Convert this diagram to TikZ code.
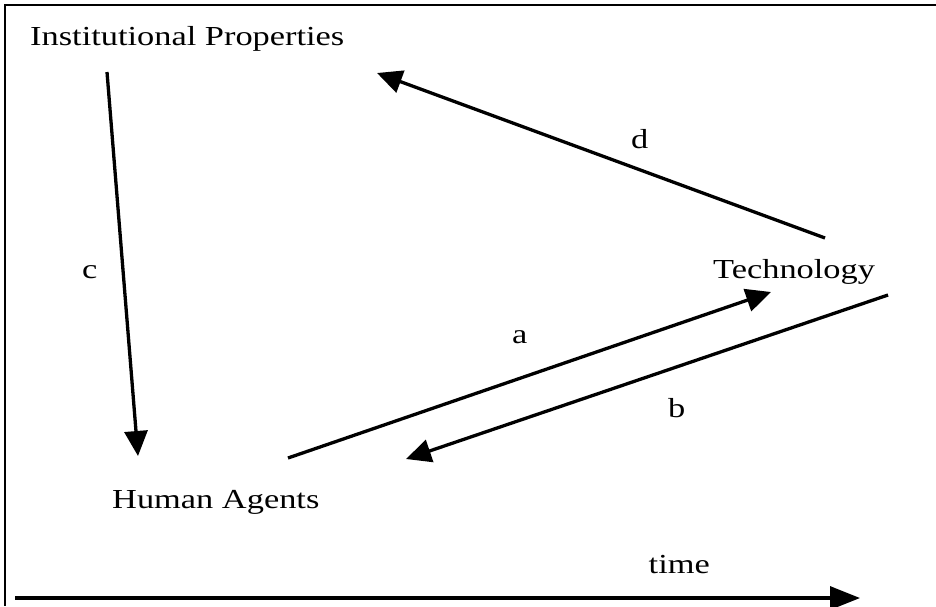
\documentclass[tikz,border=0pt]{standalone}
\usepackage{fontspec}
\setmainfont{Liberation Serif}[FakeStretch=1.25]
\usetikzlibrary{arrows.meta}
\begin{document}
\begin{tikzpicture}[x=1pt,y=-1pt,
  lbl/.style={inner sep=0pt,anchor=base west,font=\fontsize{27.5}{32}\selectfont},
  conn/.style={line width=3.3pt,-{Triangle[length=25pt,width=23pt]}},
  frameline/.style={line width=2.5pt}]
\useasboundingbox (0,0) rectangle (936,606);
% frame (top and left edges)
\draw[frameline] (936,5) -- (5,5) -- (5,606);
% texts
\node[lbl] (inst) at (30,45) {Institutional Properties};
\node[lbl] (tech) at (713,278) {Technology};
\node[lbl] (human) at (112,508) {Human Agents};
\node[lbl,anchor=base east] (time) at (710,573) {time};
\node[lbl] (la) at (512,343) {a};
\node[lbl] (lb) at (668,417) {b};
\node[lbl] (lc) at (82,278) {c};
\node[lbl] (ld) at (631,148) {d};
% connector end points
\coordinate (c1) at (107,72);
\coordinate (c2) at (138,456);
\coordinate (d1) at (825,238);
\coordinate (d2) at (377,73);
\coordinate (a1) at (288,458);
\coordinate (a2) at (771,292);
\coordinate (b1) at (888,295);
\coordinate (b2) at (406,459);
\coordinate (t1) at (15,598);
\coordinate (t2) at (860,598);
% connectors
\draw[conn] (c1) -- (c2);
\draw[conn] (d1) -- (d2);
\draw[conn] (a1) -- (a2);
\draw[conn] (b1) -- (b2);
\draw[line width=3.3pt,-{Triangle[length=30pt,width=23pt]}] (t1) -- (t2);
\end{tikzpicture}
\end{document}
